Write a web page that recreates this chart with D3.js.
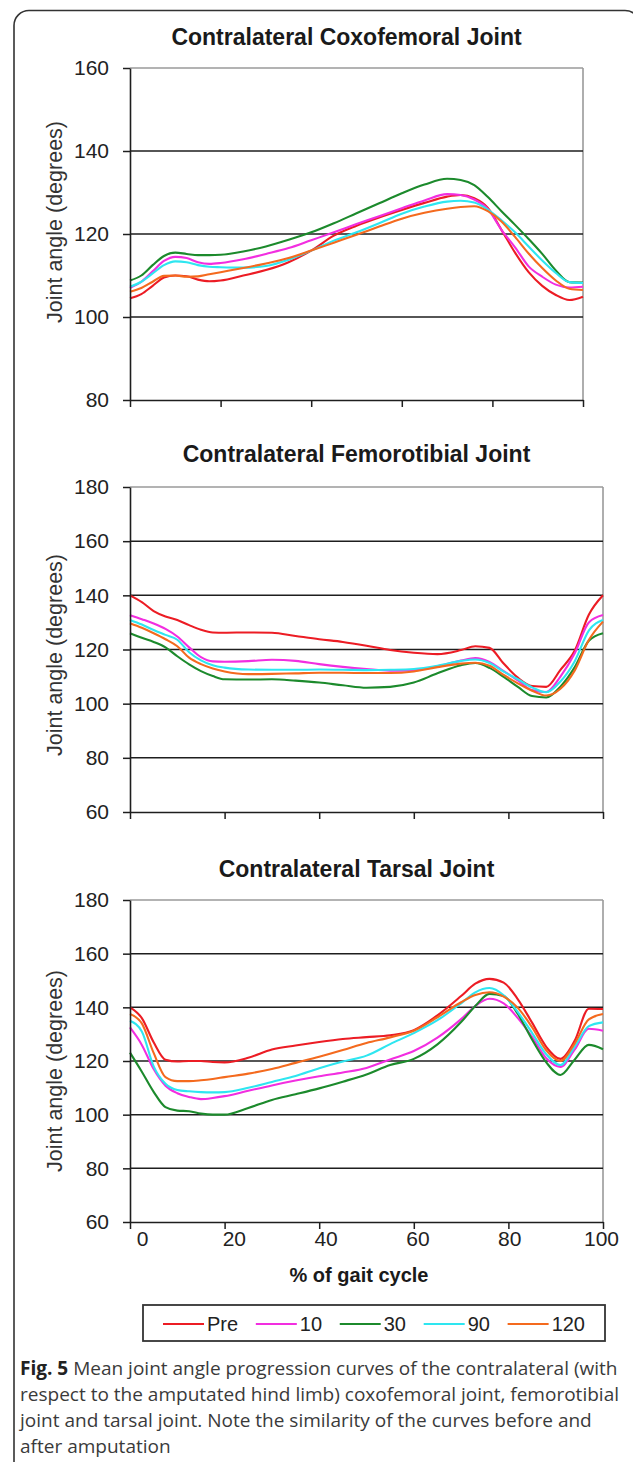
<!DOCTYPE html>
<html>
<head>
<meta charset="utf-8">
<script src="https://cdn.jsdelivr.net/npm/d3@7"></script>
<style>
  html, body { margin: 0; padding: 0; background: #fff; }
  svg { display: block; }
</style>
</head>
<body>
<svg id="chart" width="633" height="1462"></svg>
<script>
// ---------------- DATA ----------------
const gaitPct = [0,2.5,5,7.5,10,12.5,15,17.5,20,25,30,35,40,45,50,55,60,65,70,73,76,79,82,85,88,91,94,97,100];
const xTickValues = [0,20,40,60,80,100];
const seriesNames = ["Pre","10","30","90","120"];
const seriesColors = ["#ec1c24","#f22ee0","#1c8a2c","#2ee6f0","#f46a1e"];

const chartTitles = ["Contralateral Coxofemoral Joint","Contralateral Femorotibial Joint","Contralateral Tarsal Joint"];
const yTicksCoxo = [80,100,120,140,160];
const yTicksFemo = [60,80,100,120,140,160,180];
const yTicksTars = [60,80,100,120,140,160,180];

// Coxofemoral joint
const coxoPre = [104.5,105.5,107.5,109.5,110,109.8,109,108.6,108.8,110,111.3,113.2,116,119.6,122,124,125.8,127.5,129,129.4,128.6,126.3,121,115.5,110.8,107.5,105.3,104.1,104.9];
const coxo10  = [107,108.5,111,113.5,114.5,114.2,113.2,112.8,113,113.9,115.2,116.6,118.5,120.4,122.4,124.3,126.2,128.1,129.6,129.4,128.3,126,121,116.8,112.2,109.7,107.8,107.1,107.3];
const coxo30  = [108.8,110,112.5,114.7,115.5,115.2,114.9,114.9,115,115.8,117,118.6,120.4,122.6,125,127.4,129.8,131.9,133.3,133,131.8,128.9,125.5,122.2,118.8,115.2,111.2,108.4,108.3];
const coxo90  = [107.3,108.5,110.5,112.5,113.4,113.2,112.5,112.1,112,111.9,112.3,113.8,116,118.4,120.4,122.6,124.9,126.6,127.8,128,127.6,125.9,123.3,120.4,117,113.6,110.6,108.4,108.2];
const coxo120 = [106.1,107,108.5,109.9,110,109.7,109.8,110.3,110.8,111.8,112.9,114.2,116,117.9,119.8,121.8,123.7,125.1,126.1,126.5,126.7,125.5,123,119.3,115.3,111.8,108.8,106.8,106.5];

// Femorotibial joint
const femoPre = [140,137.5,134.2,132.2,130.9,129,127.3,126.3,126.2,126.3,126.2,125,123.8,122.8,121.4,119.8,118.8,118.3,119.8,121.2,120.6,114.8,109.6,106.5,106.2,112.5,119.5,132.8,140];
const femo10  = [132.7,131.2,129.6,127.6,124.8,120.8,117.2,115.6,115.5,115.7,116.2,115.8,114.6,113.6,112.8,112.2,112.3,113.8,115.9,116.8,115.4,112,108.6,105,104.3,110,118.5,130,132.7];
const femo30  = [126,124.3,122.8,120.8,117.5,114.5,112,110.2,109,108.9,109,108.5,107.8,106.8,105.9,106.2,107.8,111.2,114.2,115,113.2,109.9,106.2,102.8,102.3,106.3,113.4,123.2,126];
const femo90  = [130.9,129.2,127.2,125.4,123.6,119,116,114.2,113.3,112.6,112.5,112.5,112.6,112.5,112.4,112.5,112.8,114,115.8,116.3,115,111.8,109,106,104.2,108.2,115.6,127,130.9];
const femo120 = [129.7,128,126,123.8,121.2,117,114.6,113,111.9,110.9,111,111.2,111.4,111.4,111.3,111.3,111.9,113.5,114.8,115.1,114,110.6,107.5,104.8,103,105.5,112.2,123.5,130.3];

// Tarsal joint
const tarsPre = [140,136,127,120.5,119.8,120,120,119.6,119.5,121.2,124.3,125.8,127.1,128.2,128.9,129.6,131.5,137,144.2,148.8,150.6,149.2,143,134.3,125.3,120.8,127.5,139.5,139.4];
const tars10  = [132.5,126,117,110.8,108,106.6,105.8,106.2,106.9,108.9,110.9,112.7,114.3,115.7,117.4,120.6,123.7,128.7,135.6,140.5,143.2,141.5,136,129,121,117.8,124.2,132,131.3];
const tars30  = [123.1,116,108.5,102.8,101.5,101.3,100.4,100,100,102.5,105.5,107.6,109.8,112.3,115,118.5,120.8,126.2,134.5,140.5,145,144.2,137.5,128,119.5,114.8,120.5,126,124.4];
const tars90  = [135,131,118,111.5,109.2,108.7,108.4,108.3,108.4,110,112.2,114.4,117.3,119.8,122,126.3,130.4,135.2,141.5,145.6,147.2,144.5,138.2,130.5,122.5,118.5,125.3,133,134.4];
const tars120 = [137.5,134,123,114,112.5,112.5,112.8,113.3,114,115.3,117,119.3,121.6,124.1,126.7,128.8,131.3,136.3,141.9,144.6,145.6,144,139.8,132.6,124,120,126.5,135.5,137.5];

const xAxisTitle = "% of gait cycle";
const yAxisTitle = "Joint angle (degrees)";
const captionBold = "Fig. 5";
const captionLines = [
  " Mean joint angle progression curves of the contralateral (with",
  "respect to the amputated hind limb) coxofemoral joint, femorotibial",
  "joint and tarsal joint. Note the similarity of the curves before and",
  "after amputation"
];

// ---------------- LAYOUT ----------------
const charts = [
  { title: chartTitles[0], ticks: yTicksCoxo, series: [coxoPre,coxo10,coxo30,coxo90,coxo120],
    left:130, right:583, top:68, bottom:400, titleY:45, yLabelY:222, xLabels:false },
  { title: chartTitles[1], ticks: yTicksFemo, series: [femoPre,femo10,femo30,femo90,femo120],
    left:130, right:603, top:487, bottom:812, titleY:462, yLabelY:655, xLabels:false },
  { title: chartTitles[2], ticks: yTicksTars, series: [tarsPre,tars10,tars30,tars90,tars120],
    left:130, right:603, top:900, bottom:1222, titleY:877, yLabelY:1071, xLabels:true }
];
const FONT = "'Liberation Sans', Arial, sans-serif";

const svg = d3.select("#chart");

// outer rounded border
svg.append("rect")
  .attr("x", 14).attr("y", 10.5).attr("width", 626).attr("height", 1520)
  .attr("rx", 15).attr("ry", 15)
  .attr("fill", "none").attr("stroke", "#333").attr("stroke-width", 1.6);

charts.forEach(c => {
  const x = d3.scaleLinear().domain([0,100]).range([c.left, c.right]);
  const y = d3.scaleLinear().domain(d3.extent(c.ticks)).range([c.bottom, c.top]);
  const g = svg.append("g");

  // title
  g.append("text")
    .attr("x", (c.left + c.right)/2 - 10).attr("y", c.titleY)
    .attr("text-anchor", "middle")
    .attr("font-family", FONT).attr("font-weight", "bold").attr("font-size", 23)
    .attr("fill", "#1a1a1a")
    .text(c.title);

  // plot frame: top and right in gray
  g.append("line").attr("x1", c.left).attr("x2", c.right).attr("y1", c.top).attr("y2", c.top)
    .attr("stroke", "#9a9a9a").attr("stroke-width", 1.6);
  g.append("line").attr("x1", c.right).attr("x2", c.right).attr("y1", c.top).attr("y2", c.bottom)
    .attr("stroke", "#9a9a9a").attr("stroke-width", 1.6);

  // gridlines (interior ticks)
  const inner = c.ticks.slice(1, -1);
  g.selectAll(".grid").data(inner).join("line")
    .attr("x1", c.left).attr("x2", c.right)
    .attr("y1", d => y(d)).attr("y2", d => y(d))
    .attr("stroke", "#1e1e1e").attr("stroke-width", 1.5);

  // series
  const line = d3.line().x((d,i) => x(gaitPct[i])).y(d => y(d)).curve(d3.curveMonotoneX);
  c.series.forEach((s, k) => {
    g.append("path").datum(s)
      .attr("d", line)
      .attr("fill", "none")
      .attr("stroke", seriesColors[k])
      .attr("stroke-width", 2.1)
      .attr("stroke-linejoin", "round");
  });

  // y axis
  const ya = g.append("g").attr("transform", `translate(${c.left},0)`)
    .call(d3.axisLeft(y).tickValues(c.ticks).tickSize(7).tickPadding(14).tickSizeOuter(0));
  ya.select(".domain").attr("stroke", "#1e1e1e").attr("stroke-width", 1.6);
  ya.selectAll(".tick line").attr("stroke", "#1e1e1e").attr("stroke-width", 1.5);
  ya.selectAll(".tick text").attr("font-family", FONT).attr("font-size", 21).attr("fill", "#222");

  // x axis ticks
  const xa = g.append("g").attr("transform", `translate(0,${c.bottom})`)
    .call(d3.axisBottom(x).tickValues(xTickValues).tickSize(7).tickSizeOuter(0).tickFormat(""));
  xa.select(".domain").attr("stroke", "#1e1e1e").attr("stroke-width", 1.6);
  xa.selectAll(".tick line").attr("stroke", "#1e1e1e").attr("stroke-width", 1.5);

  if (c.xLabels) {
    const xl = d3.scaleLinear().domain([0,100]).range([c.left + 12, c.right - 2]);
    const xla = g.append("g").attr("transform", `translate(0,${c.bottom})`)
      .call(d3.axisBottom(xl).tickValues(xTickValues).tickSize(0).tickPadding(9).tickFormat(d3.format("d")));
    xla.select(".domain").remove();
    xla.selectAll(".tick text").attr("font-family", FONT).attr("font-size", 21).attr("fill", "#222");

    g.append("text")
      .attr("x", 359).attr("y", c.bottom + 60)
      .attr("text-anchor", "middle")
      .attr("font-family", FONT).attr("font-weight", "bold").attr("font-size", 20)
      .attr("fill", "#1a1a1a")
      .text(xAxisTitle);
  }

  // y axis title
  g.append("text")
    .attr("transform", `translate(62,${c.yLabelY}) rotate(-90)`)
    .attr("text-anchor", "middle")
    .attr("font-family", FONT).attr("font-size", 21.5).attr("fill", "#333")
    .text(yAxisTitle);
});

// ---------------- LEGEND ----------------
const lg = svg.append("g");
const box = { x: 143, y: 1305, w: 462, h: 36 };
lg.append("rect").attr("x", box.x).attr("y", box.y).attr("width", box.w).attr("height", box.h)
  .attr("fill", "#fff").attr("stroke", "#333").attr("stroke-width", 1.8);
const lineLen = 41, gap = 3;
const items = seriesNames.map((n, i) => {
  const t = lg.append("text").attr("font-family", FONT).attr("font-size", 20).attr("fill", "#222")
    .attr("dominant-baseline", "central").attr("y", box.y + box.h/2 + 1).text(n);
  return { t, w: t.node().getComputedTextLength(), color: seriesColors[i] };
});
const totalItems = d3.sum(items, d => lineLen + gap + d.w);
const pad = 20;
const spacing = (box.w - 2*pad - totalItems) / (items.length - 1);
let cx = box.x + pad;
items.forEach(it => {
  lg.append("line").attr("x1", cx).attr("x2", cx + lineLen)
    .attr("y1", box.y + box.h/2 + 1).attr("y2", box.y + box.h/2 + 1)
    .attr("stroke", it.color).attr("stroke-width", 2.2);
  it.t.attr("x", cx + lineLen + gap);
  cx += lineLen + gap + it.w + spacing;
});

// ---------------- CAPTION ----------------
const cap = svg.append("g");
const capFont = "'Open Sans', 'Noto Sans', sans-serif";
const capBase = 1375, capLH = 26;
const capTexts = captionLines.map((ln, i) => {
  const t = cap.append("text").attr("x", 0).attr("y", capBase + i*capLH)
    .attr("font-family", capFont).attr("font-size", 19).attr("fill", "#3a3a3a");
  if (i === 0) {
    t.append("tspan").attr("font-weight", "bold").attr("fill", "#222").text(captionBold);
  }
  t.append("tspan").text(ln);
  return t;
});
const w0 = capTexts[0].node().getComputedTextLength();
const sx = 598 / w0;
cap.attr("transform", `translate(20,0) scale(${sx},1)`);
</script>
</body>
</html>
